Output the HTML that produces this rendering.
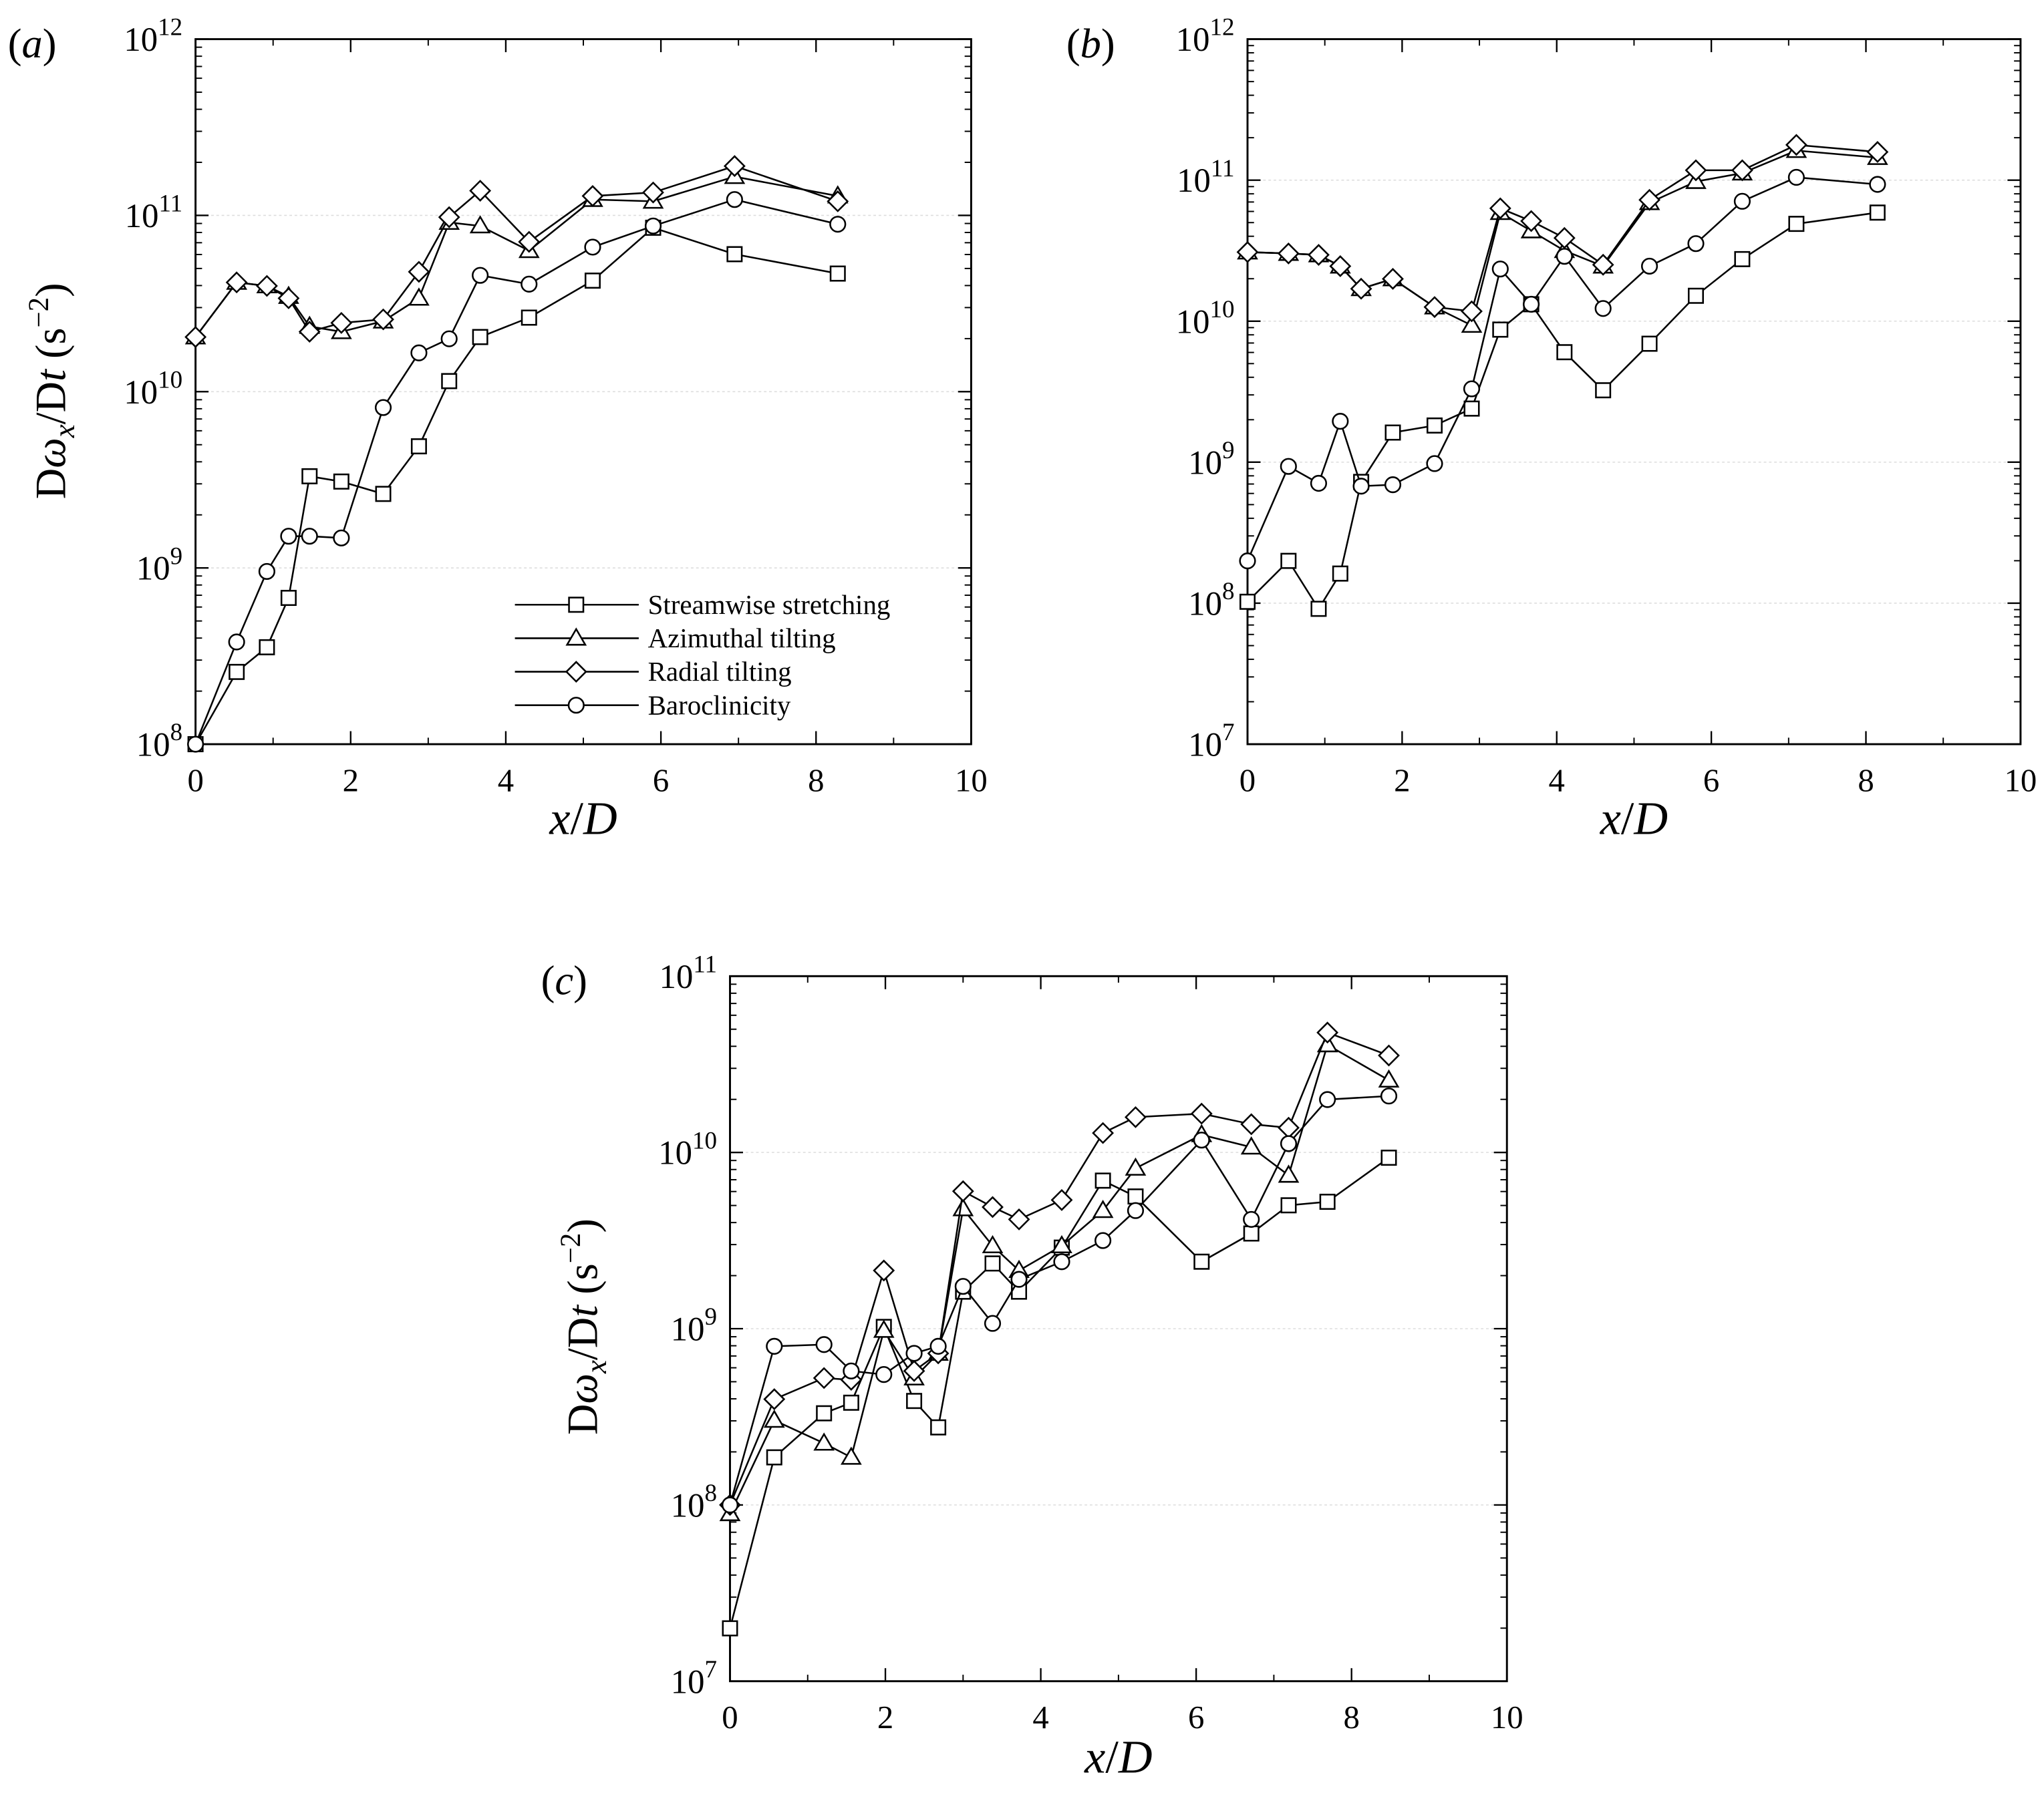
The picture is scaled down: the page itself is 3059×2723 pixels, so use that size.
<!DOCTYPE html>
<html><head><meta charset="utf-8"><style>
html,body{margin:0;padding:0;background:#fff}
svg{display:block;font-family:"Liberation Serif",serif}
</style></head><body>
<svg id="fig" width="3059" height="2723" viewBox="0 0 1568 1395.7" xmlns="http://www.w3.org/2000/svg"></svg>
<script>
// Panel (a) data (log10 values)
const aX = [0,0.53,0.92,1.2,1.47,1.88,2.42,2.88,3.27,3.67,4.3,5.12,5.9,6.95,8.28];
const aSq = [8.0,8.41,8.55,8.83,9.52,9.49,9.42,9.69,10.06,10.31,10.42,10.63,10.93,10.78,10.67];
const aTri = [10.31,10.62,10.60,10.54,10.37,10.34,10.40,10.53,10.96,10.94,10.80,11.09,11.08,11.22,11.11];
const aDia = [10.31,10.62,10.60,10.53,10.34,10.39,10.41,10.68,10.99,11.14,10.85,11.11,11.13,11.28,11.08];
const aCir = [8.0,8.58,8.98,9.18,9.18,9.17,9.91,10.22,10.30,10.66,10.61,10.82,10.94,11.09,10.95];
// Panel (b)
const bX = [0,0.53,0.92,1.2,1.47,1.88,2.42,2.9,3.27,3.67,4.1,4.6,5.2,5.8,6.4,7.1,8.15];
const bSq = [8.01,8.30,7.96,8.21,8.86,9.21,9.26,9.38,9.94,10.12,9.78,9.51,9.84,10.18,10.44,10.69,10.77];
const bTri = [10.49,10.48,10.47,10.39,10.23,10.30,10.10,9.97,10.77,10.64,10.50,10.39,10.84,10.99,11.05,11.21,11.16];
const bDia = [10.49,10.48,10.47,10.39,10.23,10.30,10.10,10.07,10.80,10.71,10.59,10.40,10.86,11.07,11.07,11.25,11.20];
const bCir = [8.30,8.97,8.85,9.29,8.83,8.84,8.99,9.52,10.37,10.12,10.46,10.09,10.39,10.55,10.85,11.02,10.97];
// Panel (c)
const cX = [0,0.57,1.21,1.56,1.98,2.37,2.68,3.0,3.38,3.72,4.27,4.8,5.22,6.07,6.71,7.19,7.69,8.48];
const cSq = [7.30,8.27,8.52,8.58,9.01,8.59,8.44,9.21,9.37,9.21,9.46,9.84,9.75,9.38,9.54,9.70,9.72,9.97];
const cTri = [7.95,8.48,8.35,8.27,8.99,8.72,8.86,9.68,9.47,9.33,9.47,9.67,9.91,10.10,10.03,9.87,10.61,10.41];
const cDia = [8.0,8.60,8.72,8.71,9.33,8.76,8.86,9.78,9.69,9.62,9.73,10.11,10.20,10.22,10.16,10.14,10.68,10.55];
const cCir = [8.0,8.90,8.91,8.76,8.74,8.86,8.90,9.24,9.03,9.28,9.38,9.50,9.67,10.07,9.62,10.05,10.30,10.32];
const xTicks = [0,2,4,6,8,10];

const NS="http://www.w3.org/2000/svg";
const svg=document.getElementById('fig');
function mk(tag,attrs,parent){const e=document.createElementNS(NS,tag);for(const k in attrs)e.setAttribute(k,attrs[k]);(parent||svg).appendChild(e);return e;}

function marker(g,shape,px,py){
  let e;
  if(shape==='sq') e=mk('rect',{x:px-5.5,y:py-5.5,width:11,height:11,fill:'#fff',stroke:'#000','stroke-width':1.3},g);
  else if(shape==='ci') e=mk('circle',{cx:px,cy:py,r:5.8,fill:'#fff',stroke:'#000','stroke-width':1.3},g);
  else if(shape==='di') e=mk('polygon',{points:`${px},${py-7.5} ${px+7.5},${py} ${px},${py+7.5} ${px-7.5},${py}`,fill:'#fff',stroke:'#000','stroke-width':1.3},g);
  else e=mk('polygon',{points:`${px},${py-7} ${px+7},${py+5} ${px-7},${py+5}`,fill:'#fff',stroke:'#000','stroke-width':1.3},g);
  return e;
}

function panel(cfg){
  const {name,x0,x1,yTop,yBot,lmax,lmin,label,lblX,lblY,series,ylabX,ylabY,xlabY}=cfg;
  const g=mk('g',{});
  
  
  const sx=v=>x0+(x1-x0)*v/10;
  const sy=l=>yTop+(yBot-yTop)*(lmax-l)/(lmax-lmin);
  for(let l=lmin+1;l<lmax;l++){
    const gl=mk('line',{x1:x0,x2:x1,y1:sy(l),y2:sy(l),stroke:'#ddd','stroke-width':0.8,'stroke-dasharray':'2,2'},g);
    
    
  }
  const fr=mk('rect',{x:x0,y:yTop,width:x1-x0,height:yBot-yTop,fill:'none',stroke:'#000','stroke-width':1.5},g);
  
  
  for(let l=lmin;l<=lmax;l++){
    const y=sy(l);
    mk('line',{x1:x0,x2:x0+10,y1:y,y2:y,stroke:'#000','stroke-width':1.2},g);
    mk('line',{x1:x1,x2:x1-10,y1:y,y2:y,stroke:'#000','stroke-width':1.2},g);
    if(l<lmax){for(let m=2;m<10;m++){const ym=sy(l+Math.log10(m));
      mk('line',{x1:x0,x2:x0+5,y1:ym,y2:ym,stroke:'#000','stroke-width':1},g);
      mk('line',{x1:x1,x2:x1-5,y1:ym,y2:ym,stroke:'#000','stroke-width':1},g);}}
    const t=mk('text',{x:x0-10,y:y+9,'text-anchor':'end','font-size':26},g);
    
    
    t.appendChild(document.createTextNode('10'));
    const s=mk('tspan',{dy:-12,'font-size':19},t);s.textContent=String(l);
  }
  for(let i=0;i<xTicks.length;i++){
    const v=xTicks[i],x=sx(v);
    mk('line',{x1:x,x2:x,y1:yBot,y2:yBot-10,stroke:'#000','stroke-width':1.2},g);
    mk('line',{x1:x,x2:x,y1:yTop,y2:yTop+10,stroke:'#000','stroke-width':1.2},g);
    if(i<xTicks.length-1){const xm=sx(v+1);
      mk('line',{x1:xm,x2:xm,y1:yBot,y2:yBot-5,stroke:'#000','stroke-width':1},g);
      mk('line',{x1:xm,x2:xm,y1:yTop,y2:yTop+5,stroke:'#000','stroke-width':1},g);}
    const t=mk('text',{x:x,y:yBot+36,'text-anchor':'middle','font-size':25},g);
    
    
    t.textContent=String(v);
  }
  series.forEach(s=>{
    const sg=mk('g',{},g);
    
    
    const pts=s.x.map((v,i)=>sx(v)+','+sy(s.y[i])).join(' ');
    mk('polyline',{points:pts,fill:'none',stroke:'#000','stroke-width':1.3},sg);
    s.x.forEach((v,i)=>{const m=marker(sg,s.shape,sx(v),sy(s.y[i]));
      
      });
  });
  const pl=mk('text',{x:lblX,y:lblY,'font-size':32,'font-style':'italic'},g);
  
  
  pl.innerHTML='<tspan font-style="normal">(</tspan>'+label+'<tspan font-style="normal">)</tspan>';
  const xl=mk('text',{x:(x0+x1)/2,y:xlabY,'text-anchor':'middle','font-size':36},g);
  
  
  xl.innerHTML='<tspan font-style="italic">x</tspan>/<tspan font-style="italic">D</tspan>';
  if(ylabX!==undefined){
    const yl=mk('text',{x:0,y:0,'text-anchor':'middle','font-size':33,transform:`translate(${ylabX},${ylabY}) rotate(-90)`},g);
    
    
    yl.innerHTML='D<tspan font-style="italic">ω</tspan><tspan font-style="italic" font-size="23" dy="7">x</tspan><tspan dy="-7">/D</tspan><tspan font-style="italic">t</tspan> (s<tspan font-size="22" dy="-13">−2</tspan><tspan dy="13">)</tspan>';
  }
  return {g,sx,sy};
}

panel({name:'panel-a',x0:150,x1:745,yTop:30,yBot:571,lmax:12,lmin:8,label:'a',lblX:6,lblY:44,xlabY:640,ylabX:50,ylabY:300,
  series:[{name:'series-streamwise-stretching',x:aX,y:aSq,shape:'sq'},{name:'series-azimuthal-tilting',x:aX,y:aTri,shape:'tr'},
          {name:'series-radial-tilting',x:aX,y:aDia,shape:'di'},{name:'series-baroclinicity',x:aX,y:aCir,shape:'ci'}]});
panel({name:'panel-b',x0:957,x1:1550,yTop:30,yBot:571,lmax:12,lmin:7,label:'b',lblX:818,lblY:44,xlabY:640,
  series:[{name:'series-streamwise-stretching',x:bX,y:bSq,shape:'sq'},{name:'series-azimuthal-tilting',x:bX,y:bTri,shape:'tr'},
          {name:'series-radial-tilting',x:bX,y:bDia,shape:'di'},{name:'series-baroclinicity',x:bX,y:bCir,shape:'ci'}]});
panel({name:'panel-c',x0:560,x1:1156,yTop:749,yBot:1290,lmax:11,lmin:7,label:'c',lblX:415,lblY:763,xlabY:1360,ylabX:458,ylabY:1018,
  series:[{name:'series-streamwise-stretching',x:cX,y:cSq,shape:'sq'},{name:'series-azimuthal-tilting',x:cX,y:cTri,shape:'tr'},
          {name:'series-radial-tilting',x:cX,y:cDia,shape:'di'},{name:'series-baroclinicity',x:cX,y:cCir,shape:'ci'}]});

const leg=mk('g',{});


const legNames=['Streamwise stretching','Azimuthal tilting','Radial tilting','Baroclinicity'];
const legShapes=['sq','tr','di','ci'];
legNames.forEach((n,i)=>{
  const y=464+i*25.7;
  const eg=mk('g',{},leg);
  
  
  mk('line',{x1:395,x2:490,y1:y,y2:y,stroke:'#000','stroke-width':1.3},eg);
  marker(eg,legShapes[i],442,y);
  const t=mk('text',{x:497,y:y+7,'font-size':21},eg);
  t.textContent=n;
});
</script>
</body></html>
